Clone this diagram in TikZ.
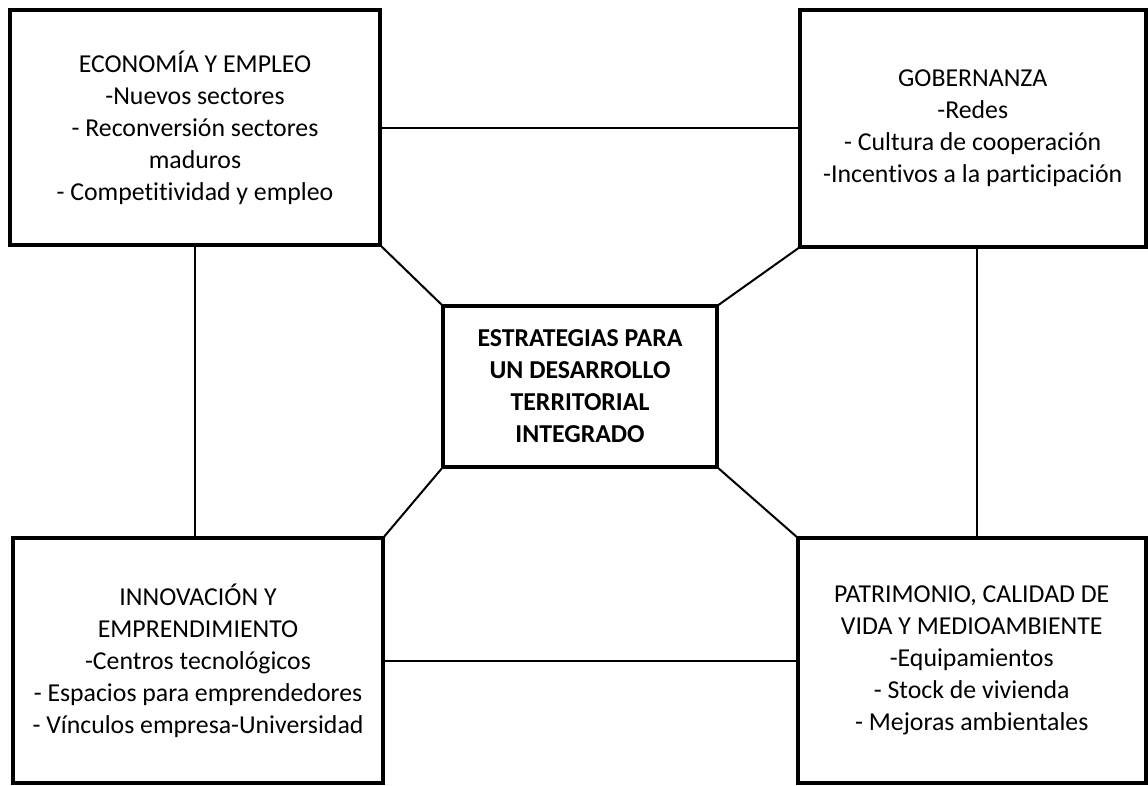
\documentclass[tikz,border=0pt]{standalone}
\usepackage{fontspec}
\setmainfont{Carlito}[Ligatures=NoCommon]
\usetikzlibrary{calc}
\tikzset{
  box/.style={draw, line width=4pt, outer sep=0pt, inner sep=0pt, align=center,
    font=\fontsize{25.8}{32}\selectfont},
  link/.style={line width=2pt}
}
\begin{document}
\begin{tikzpicture}[x=1pt,y=-1pt]
\useasboundingbox (0,0) rectangle (1148,785);
\node[box, minimum width=370, minimum height=235] (tl) at (195,127.5)
  {ECONOMÍA Y EMPLEO\\-Nuevos sectores\\- Reconversión sectores\\maduros\\- Competitividad y empleo};
\node[box, minimum width=345.5, minimum height=237] (tr) at (972.75,128.5)
  {GOBERNANZA\\-Redes\\- Cultura de cooperación\\-Incentivos a la participación};
\node[box, minimum width=370, minimum height=245] (bl) at (198,660.5)
  {INNOVACIÓN Y\\EMPRENDIMIENTO\\-Centros tecnológicos\\- Espacios para emprendedores\\- Vínculos empresa-Universidad};
\node[box, minimum width=347.5, minimum height=245] (br) at (971.75,660.5)
  {PATRIMONIO, CALIDAD DE\\VIDA Y MEDIOAMBIENTE\\-Equipamientos\\- Stock de vivienda\\- Mejoras ambientales};
\node[box, minimum width=274, minimum height=161, font=\fontsize{25.8}{32}\selectfont\bfseries] (c) at (580,386.5)
  {ESTRATEGIAS PARA\\UN DESARROLLO\\TERRITORIAL\\INTEGRADO};
\draw[link] (tl.south east) -- (c.north west);
\draw[link] (tr.south west) -- (c.north east);
\draw[link] (bl.north east) -- (c.south west);
\draw[link] (br.north west) -- (c.south east);
\draw[link] (tl.east) -- (tl.east -| tr.west);
\draw[link] (bl.east) -- (br.west);
\draw[link] (tl.south) -- (tl.south |- bl.north);
\draw[link] ([xshift=4pt]tr.south) -- ([xshift=4pt]tr.south |- br.north);
\end{tikzpicture}
\end{document}
